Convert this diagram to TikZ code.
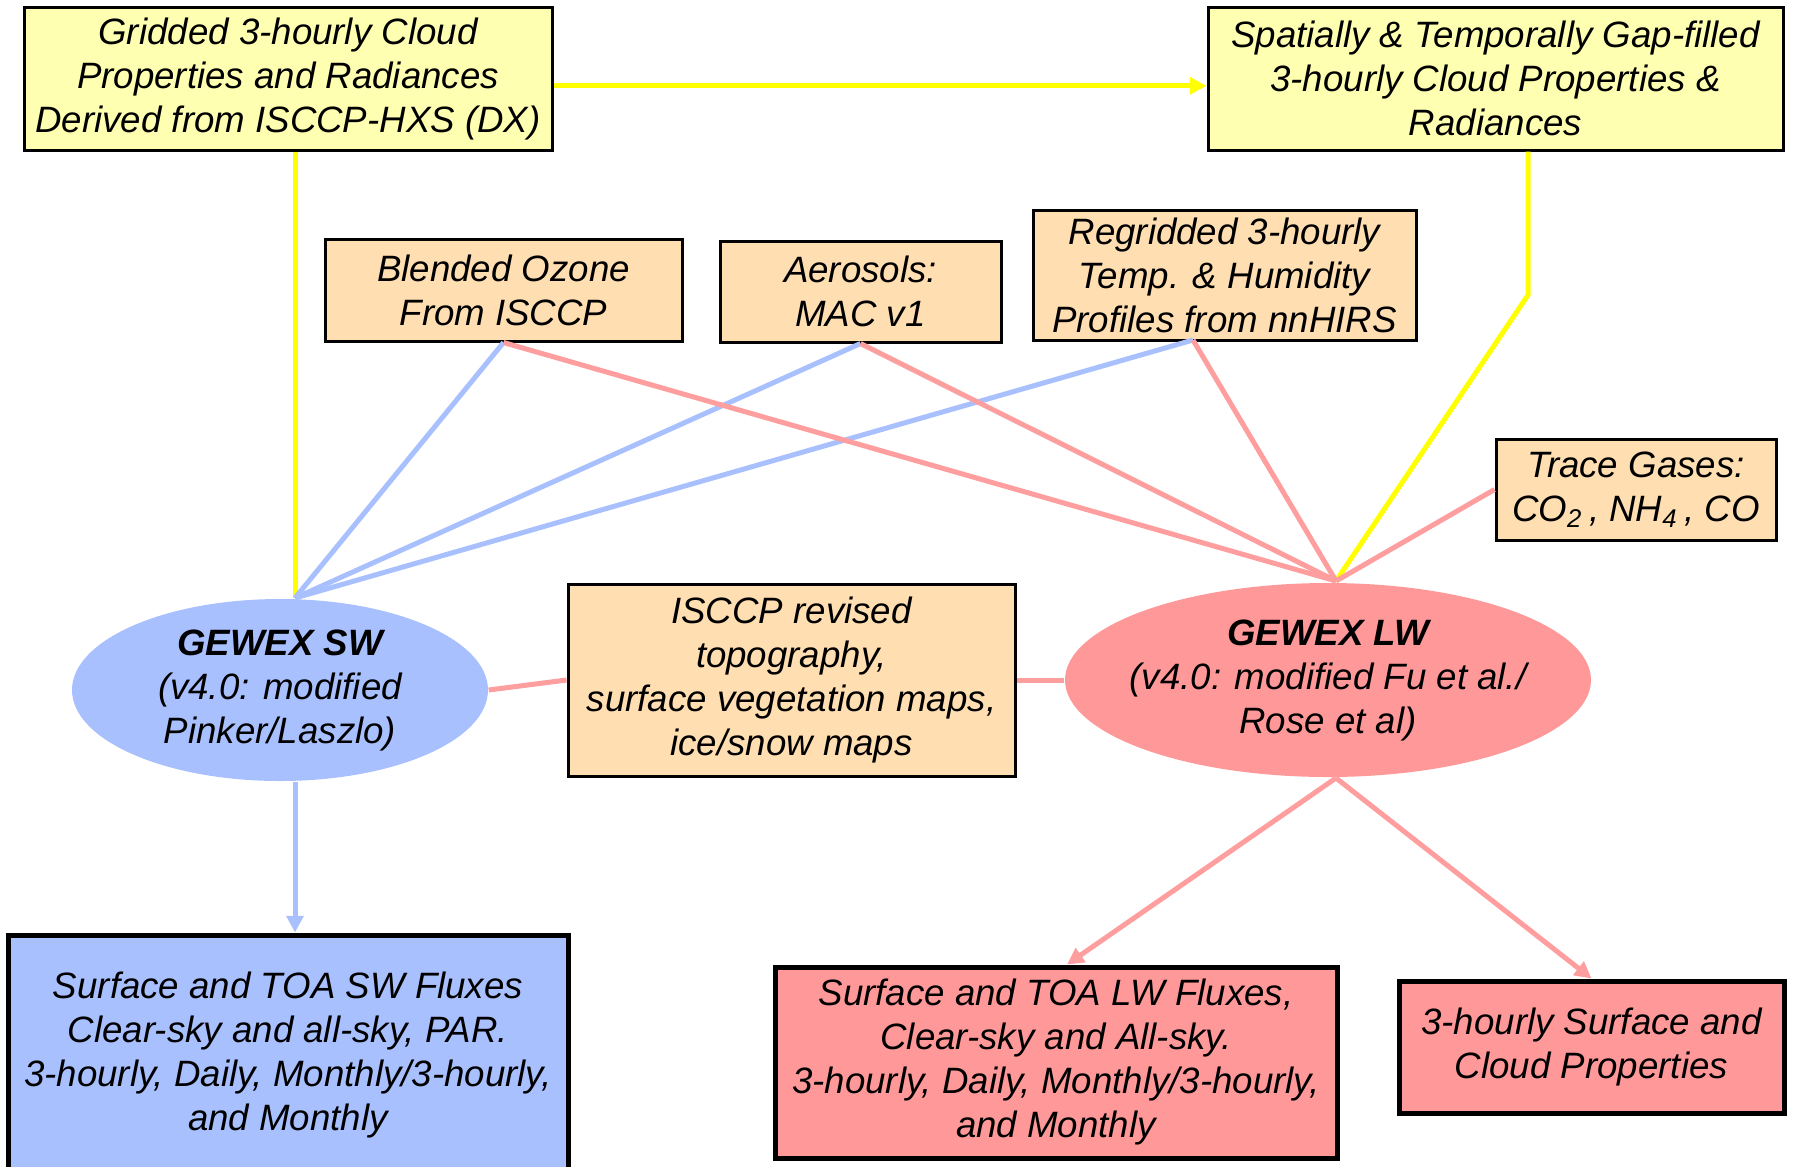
\documentclass[tikz,border=0pt]{standalone}
\usepackage{fontspec}
\setmainfont{Liberation Sans}
\usetikzlibrary{arrows.meta, positioning, shapes.geometric, calc}
\definecolor{cloudyellow}{RGB}{255, 255, 178}
\definecolor{inputpeach}{RGB}{255, 222, 178}
\definecolor{swblue}{RGB}{169, 192, 255}
\definecolor{lwred}{RGB}{255, 153, 153}
\definecolor{linkred}{RGB}{255, 158, 158}
\definecolor{linkyellow}{RGB}{255, 255, 0}

\begin{document}
\begin{tikzpicture}[
        x=0.3pt, y=-0.3pt,
        textfont/.style={font=\fontsize{11}{13.2}\selectfont\itshape},
        block/.style={rectangle, draw, line width=0.9pt, align=center,
                      inner sep=1pt, textfont},
        cloudblock/.style={block, fill=cloudyellow},
        inputblock/.style={block, fill=inputpeach},
        outblock/.style={block, line width=1.5pt},
        model/.style={ellipse, draw=none, inner sep=0pt},
        ylink/.style={draw=linkyellow, line width=1.5pt},
        blink/.style={draw=swblue, line width=1.5pt},
        rlink/.style={draw=linkred, line width=1.5pt},
        tip/.style={-{Triangle[length=5pt, width=5pt]}},
    ]
    \useasboundingbox (0,0) rectangle (1793,1166);

    % cloud products
    \node[cloudblock, minimum width=158.4pt, minimum height=42.9pt] (gridded) at (288,78.5)
        {Gridded 3-hourly Cloud\\Properties and Radiances\\Derived from ISCCP-HXS (DX)};
    \node[cloudblock, minimum width=172.5pt, minimum height=42.9pt] (gapfill) at (1495.5,78.5)
        {Spatially \& Temporally Gap-filled\\3-hourly Cloud Properties \&\\Radiances};

    % ancillary inputs
    \node[inputblock, minimum width=107.1pt, minimum height=30.6pt] (ozone) at (503.5,290)
        {Blended Ozone\\From ISCCP};
    \node[inputblock, minimum width=84.3pt, minimum height=30.3pt] (aerosol) at (860.5,291.5)
        {Aerosols:\\MAC v1};
    \node[inputblock, minimum width=114.9pt, minimum height=39pt] (profiles) at (1224.5,275)
        {Regridded 3-hourly\\Temp. \& Humidity\\Profiles from nnHIRS};
    \node[inputblock, minimum width=84pt, minimum height=30.3pt] (gases) at (1636,489.5)
        {Trace Gases:\\CO\textsubscript{2}\,, NH\textsubscript{4}\,, CO};
    \node[inputblock, minimum width=134.1pt, minimum height=57.6pt] (surface) at (791.5,680)
        {ISCCP revised\\topography,\\surface vegetation maps,\\ice/snow maps};

    % radiative transfer models
    \node[model, fill=swblue, minimum width=124.8pt, minimum height=54.6pt] (sw) at (280,690) {};
    \node[textfont, align=center] (swtext) at (sw) {\textbf{GEWEX SW}\\(v4.0: modified\\Pinker/Laszlo)};
    \node[model, fill=lwred, minimum width=157.8pt, minimum height=58.2pt] (lw) at (1328,680) {};
    \node[textfont, align=center] (lwtext) at (lw) {\textbf{GEWEX LW}\\(v4.0: modified Fu et al./\\Rose et al)};

    % output products
    \node[outblock, fill=swblue, minimum width=168pt, minimum height=72pt] (swflux) at (288,1055)
        {Surface and TOA SW Fluxes\\Clear-sky and all-sky, PAR.\\3-hourly, Daily, Monthly/3-hourly,\\and Monthly};
    \node[outblock, fill=lwred, minimum width=168.6pt, minimum height=57.3pt] (lwflux) at (1056,1062.5)
        {Surface and TOA LW Fluxes,\\Clear-sky and All-sky.\\3-hourly, Daily, Monthly/3-hourly,\\and Monthly};
    \node[outblock, fill=lwred, minimum width=115.5pt, minimum height=39.6pt] (cloudprop) at (1591.5,1047)
        {3-hourly Surface and\\Cloud Properties};

    \coordinate (swhub) at (295,598);
    \coordinate (lwhub) at (1336,581);
    \coordinate (lwfoot) at (1336,778);
    \coordinate (ybend) at (1528,295);
    \coordinate (profilesfoot) at (1193,340);

    % yellow cloud links
    \draw[ylink, tip] ([yshift=-2.2pt]gridded.east) -- ([yshift=-2.2pt]gapfill.west);
    \draw[ylink] (gridded.south -| swhub) -- (swhub);
    \draw[ylink] (gapfill.south -| ybend) -- (ybend) -- (lwhub);

    % inputs to SW
    \draw[blink] (ozone.south) -- (swhub);
    \draw[blink] (aerosol.south) -- (swhub);
    \draw[blink] (profilesfoot) -- (swhub);

    % inputs to LW
    \draw[rlink] (ozone.south) -- (lwhub);
    \draw[rlink] (aerosol.south) -- (lwhub);
    \draw[rlink] (profilesfoot) -- (lwhub);
    \draw[rlink] (gases.west) -- (lwhub);
    \draw[rlink] (surface.west) -- (sw.east);
    \draw[rlink] (surface.east) -- (lw.west);

    % outputs
    \draw[blink, tip] (swhub |- sw.south) -- (swhub |- swflux.north);
    \draw[rlink, tip] (lwfoot) -- ([xshift=3.3pt]lwflux.north);
    \draw[rlink, tip] (lwfoot) -- (cloudprop.north);
\end{tikzpicture}
\end{document}
